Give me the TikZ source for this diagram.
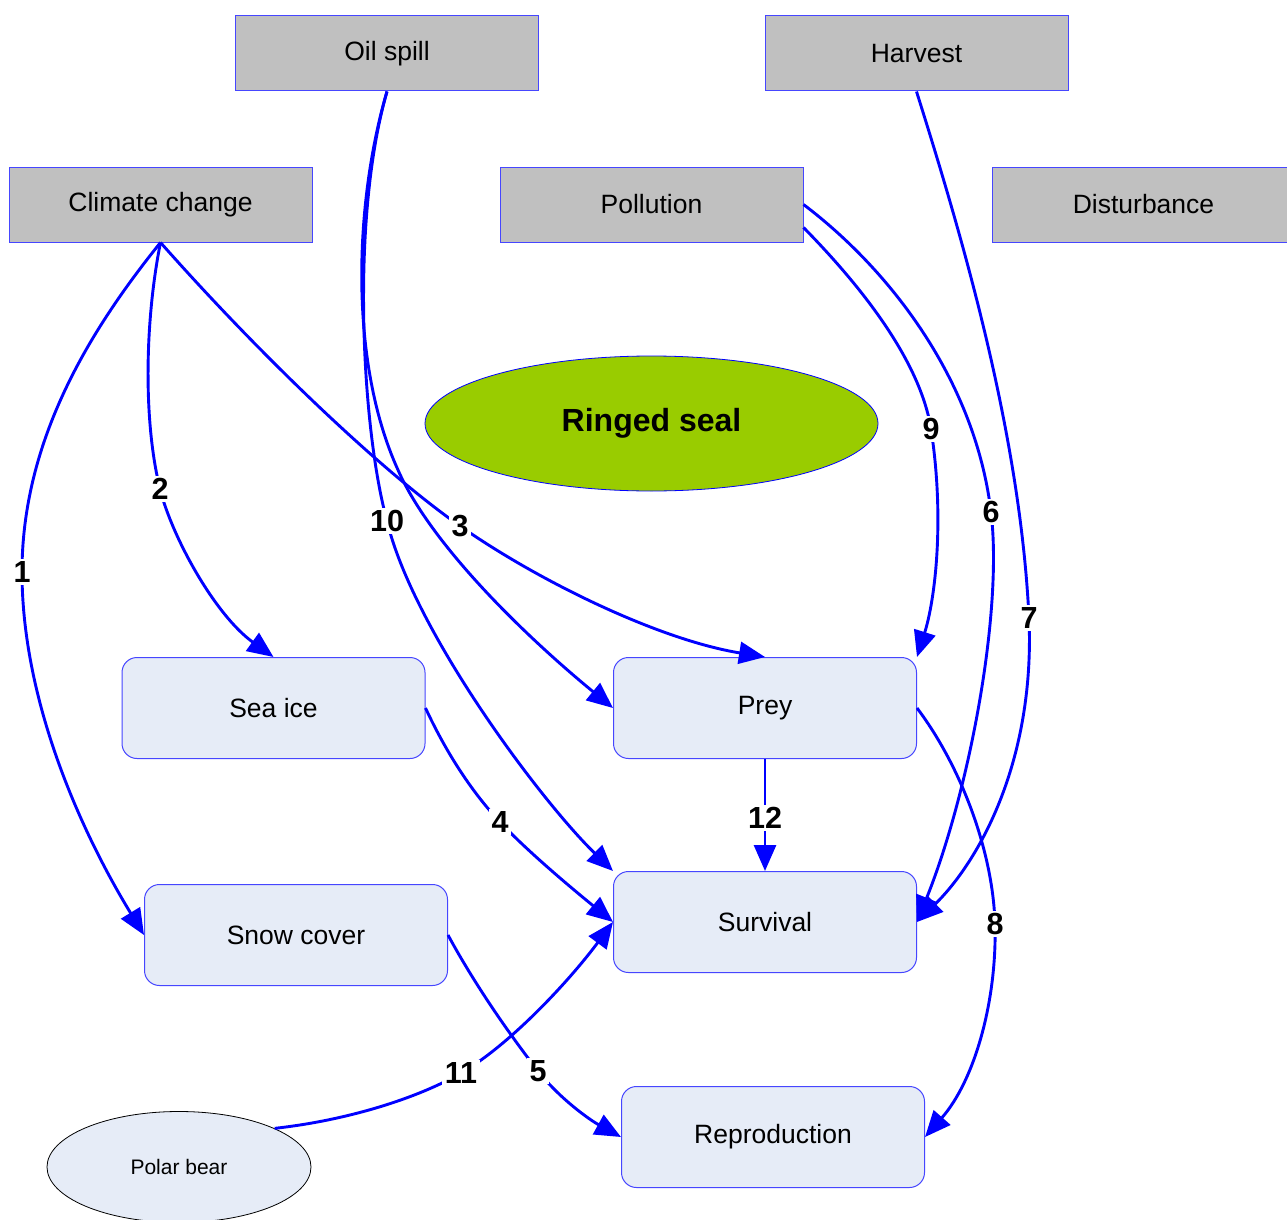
\documentclass[tikz,border=0pt]{standalone}
\usepackage{fontspec}
\setmainfont{Liberation Sans}
\usetikzlibrary{arrows.meta,shapes.geometric}
\definecolor{boxgray}{RGB}{192,192,192}
\definecolor{boxedge}{RGB}{70,70,255}
\definecolor{boxfill}{RGB}{230,236,247}
\definecolor{sealgreen}{RGB}{153,204,0}
\begin{document}
\begin{tikzpicture}[x=1pt,y=-1pt,
  factor/.style={draw=boxedge, line width=1pt, fill=boxgray,
    minimum width=303pt, minimum height=75pt, inner sep=0pt,
    font=\fontsize{26.5}{30}\selectfont},
  effect/.style={draw=boxedge, line width=1pt, fill=boxfill, rounded corners=15pt,
    minimum width=303pt, minimum height=101pt, inner sep=0pt,
    font=\fontsize{26.5}{30}\selectfont},
  link/.style={draw=blue, line width=2.9pt, -{Triangle[length=26pt,width=22pt]}},
  num/.style={fill=white, inner sep=2.5pt, font=\bfseries\fontsize{30.5}{33}\selectfont}
]
\clip (0,0) rectangle (1287,1220);
\fill[white] (0,0) rectangle (1287,1220);

% stressors
\node[factor] (oil)  at (387,53.5)    {Oil spill};
\node[factor] (harv) at (916.5,53.5)  {Harvest};
\node[factor] (clim) at (160.5,204.5) {Climate change};
\node[factor] (poll) at (651.5,204.5) {Pollution};
\node[factor] (dist) at (1143.5,204.5) {Disturbance};

% species
\node[ellipse, draw=blue, line width=0.8pt, fill=sealgreen,
  minimum width=453pt, minimum height=135pt, inner sep=0pt,
  font=\bfseries\fontsize{32}{36}\selectfont] (seal) at (651.5,423.5) {Ringed seal};

% effects
\node[effect] (ice)  at (273.5,708) {Sea ice};
\node[effect] (prey) at (765,708)   {Prey};
\node[effect] (surv) at (765,922)   {Survival};
\node[effect] (snow) at (296,935)   {Snow cover};
\node[effect] (repr) at (773,1137)  {Reproduction};

\node[ellipse, draw=black, line width=0.8pt, fill=boxfill,
  minimum width=264pt, minimum height=111pt, inner sep=0pt,
  font=\fontsize{21}{24}\selectfont] (bear) at (179,1167) {Polar bear};

% links
\draw[link] (clim.south) .. controls (90,330) and (22,440) .. (22,572) node[num]{1}
  .. controls (22,700) and (80,830) .. (snow.west);
\draw[link] (clim.south) .. controls (145,320) and (143,420) .. (160,489) node[num]{2}
  .. controls (172,537) and (215,615) .. (ice.north);
\draw[link] (clim.south) .. controls (260,355) and (380,470) .. (460,526) node[num]{3}
  .. controls (540,582) and (660,640) .. (prey.north);
\draw[link] (ice.east) .. controls (445,750) and (470,790) .. (500,822) node[num]{4}
  .. controls (530,854) and (580,895) .. (surv.west);
\draw[link] (snow.east) .. controls (475,985) and (510,1035) .. (538,1071) node[num]{5}
  .. controls (560,1099) and (590,1120) .. (repr.west);
\draw[link] (poll.east) .. controls (890,270) and (975,380) .. (991,512) node[num]{6}
  .. controls (1003,610) and (970,790) .. (surv.east);
\draw[link] (harv.south) .. controls (960,230) and (1020,430) .. (1029,618) node[num]{7}
  .. controls (1035,760) and (980,860) .. (surv.east);
\draw[link] (prey.east) .. controls (960,765) and (993,850) .. (995,924) node[num]{8}
  .. controls (997,1000) and (975,1080) .. (repr.east);
\draw[link] ([yshift=15pt]poll.south east) .. controls (860,285) and (920,360) .. (931,429) node[num]{9}
  .. controls (945,520) and (935,600) .. (prey.north east);
\draw[link] (oil.south) .. controls (350,220) and (362,430) .. (387,521) node[num]{10}
  .. controls (413,630) and (540,800) .. (surv.north west);
\draw[link] (oil.south) .. controls (355,200) and (348,360) .. (398,470)
  .. controls (432,547) and (530,640) .. (prey.west);
\draw[link] (bear.22) .. controls (350,1120) and (420,1097) .. (461,1073) node[num]{11}
  .. controls (510,1045) and (570,980) .. (surv.west);
\draw[link] (prey.south) -- (765,818) node[num]{12} -- (surv.north);
\end{tikzpicture}
\end{document}
